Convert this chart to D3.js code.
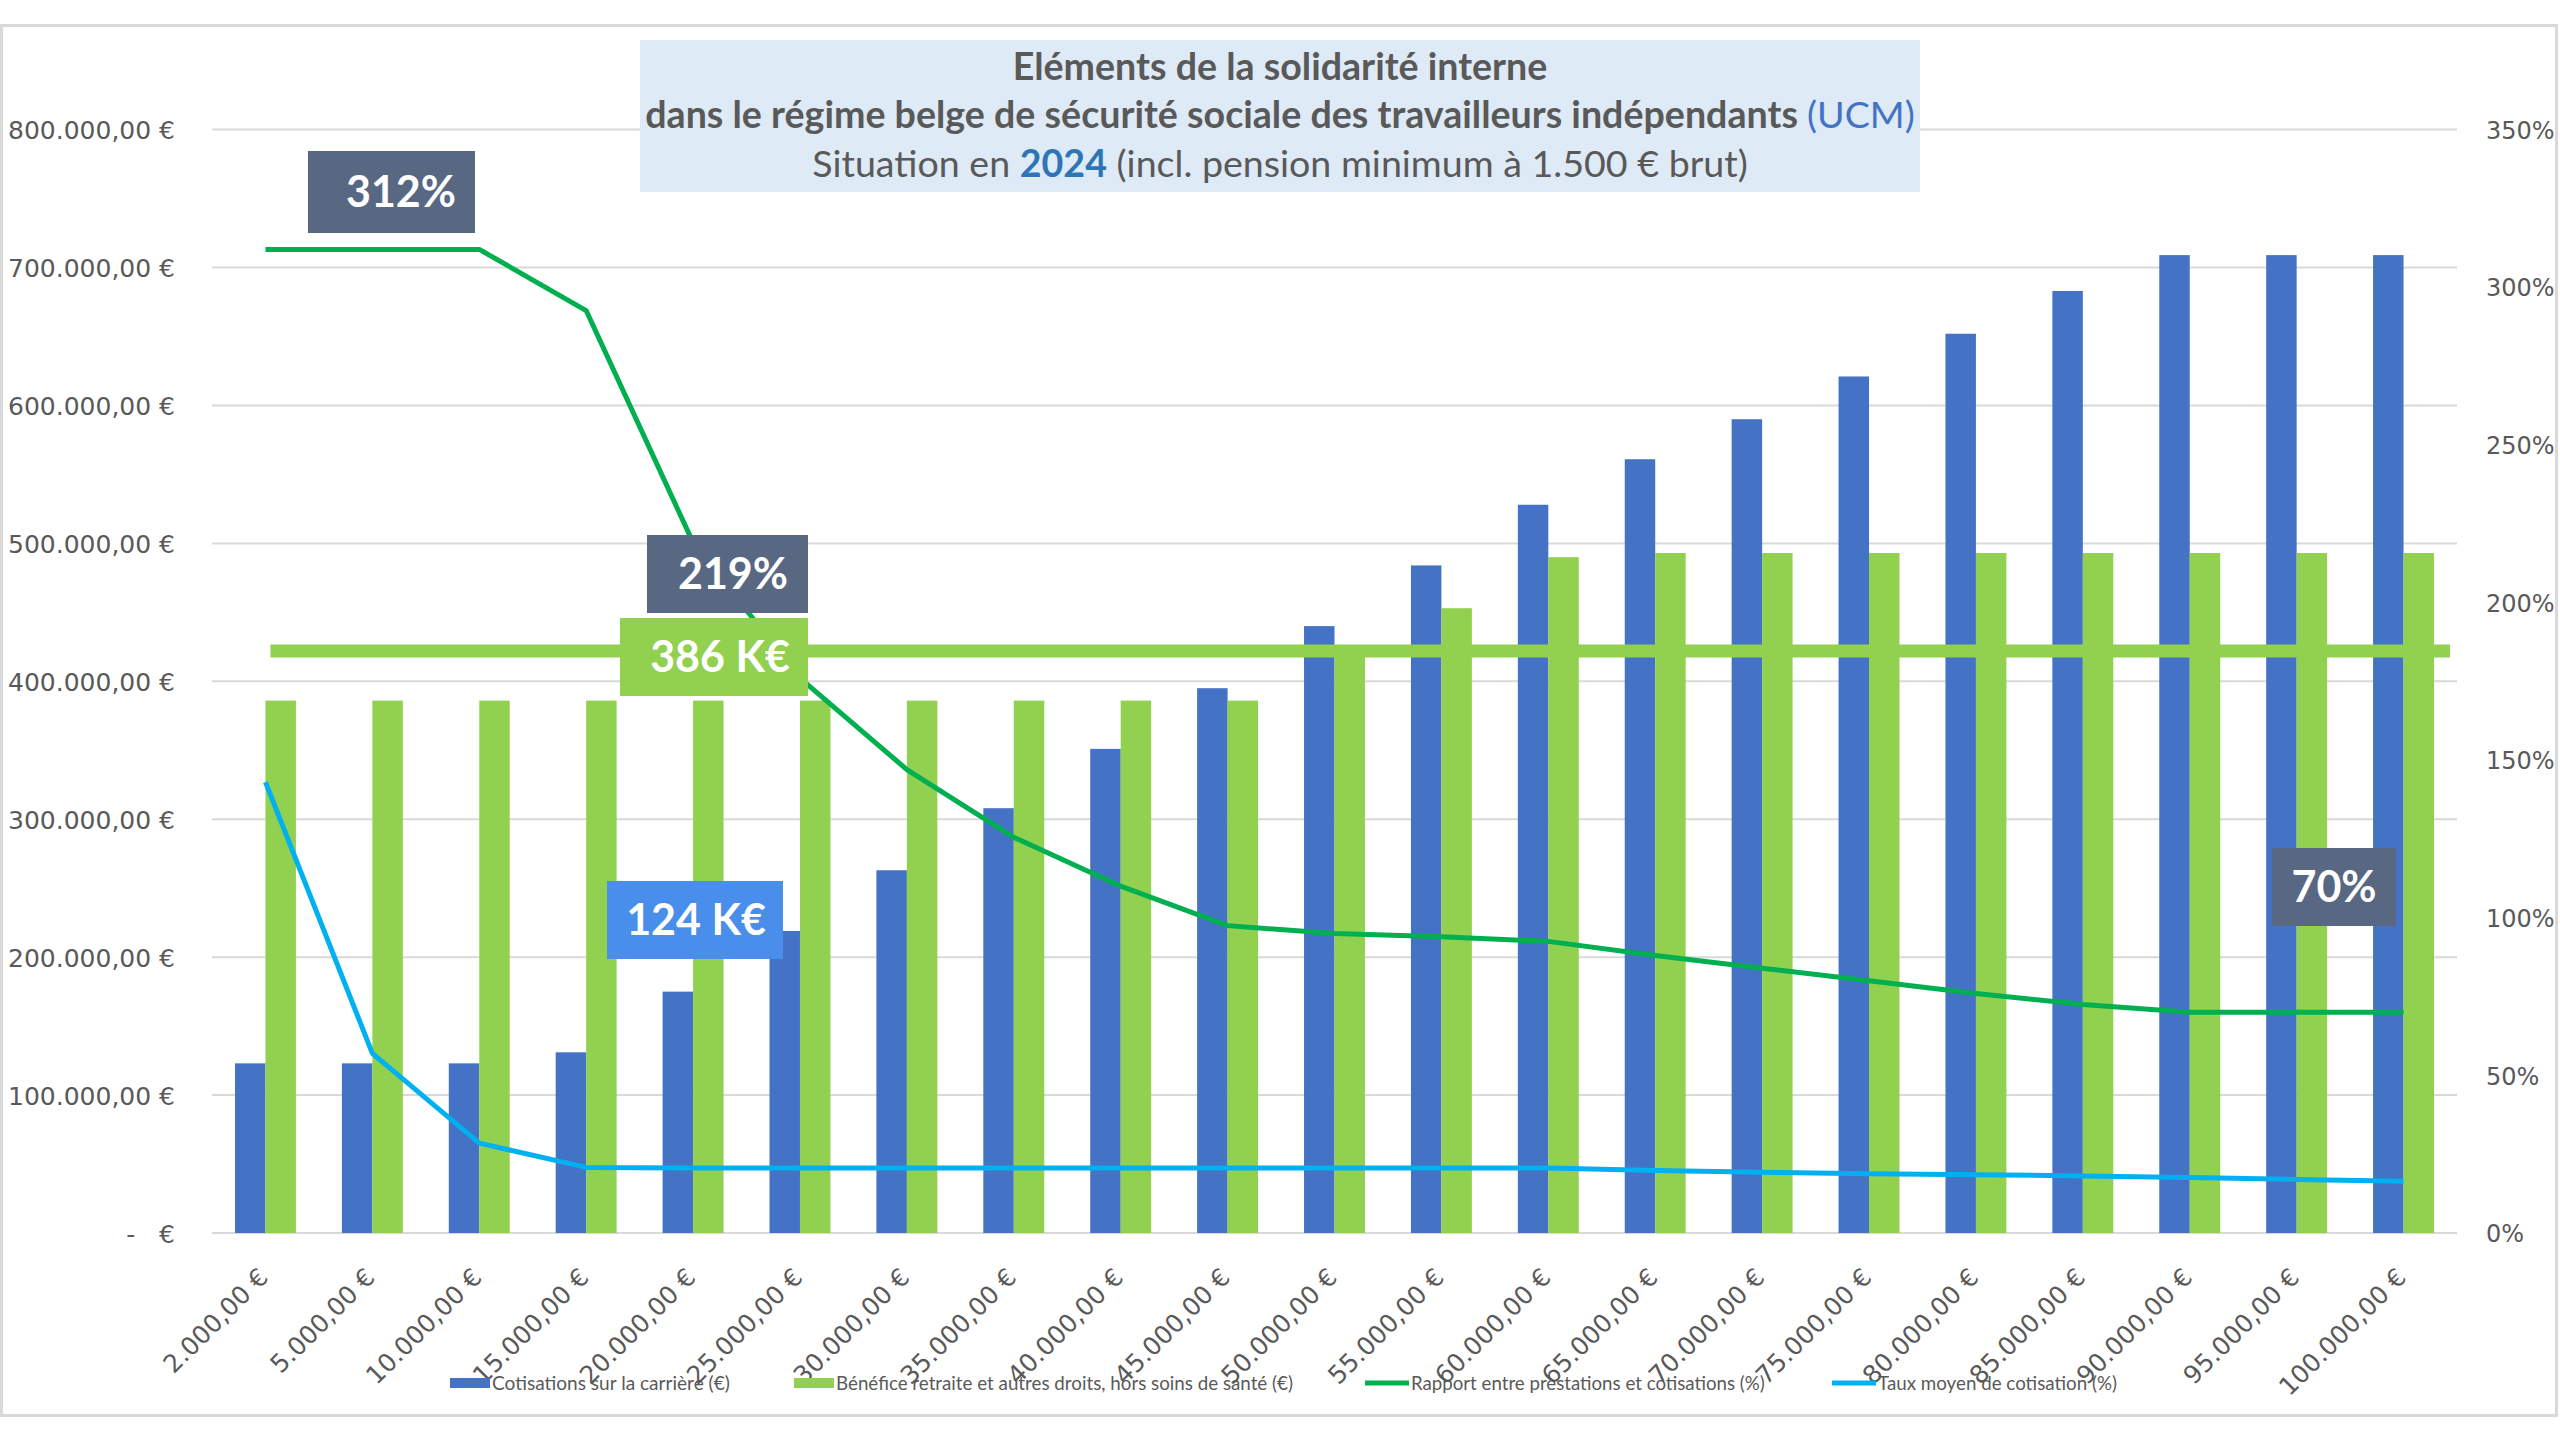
<!DOCTYPE html>
<html><head><meta charset="utf-8">
<script src="https://cdn.jsdelivr.net/npm/d3@7"></script>
<style>
html,body{margin:0;padding:0;background:#fff;}
svg{display:block;}
</style></head>
<body>
<svg id="chart" width="2560" height="1440"></svg>
<script>
// ---------- DATA ----------
const categories = [2000,5000,10000,15000,20000,25000,30000,35000,40000,45000,50000,55000,60000,65000,70000,75000,80000,85000,90000,95000,100000];
const categoryLabels = ["2.000,00 €","5.000,00 €","10.000,00 €","15.000,00 €","20.000,00 €","25.000,00 €","30.000,00 €","35.000,00 €","40.000,00 €","45.000,00 €","50.000,00 €","55.000,00 €","60.000,00 €","65.000,00 €","70.000,00 €","75.000,00 €","80.000,00 €","85.000,00 €","90.000,00 €","95.000,00 €","100.000,00 €"];
const cotisations = [123000,123000,123000,131000,175000,219000,263000,308000,351000,395000,440000,484000,528000,561000,590000,621000,652000,683000,709000,709000,709000];
const benefice = [386000,386000,386000,386000,386000,386000,386000,386000,386000,386000,420000,453000,490000,493000,493000,493000,493000,493000,493000,493000,493000];
const rapport = [312,312,312,292.6,219,176,147,125.5,110,97.5,95,94,92.5,88,84,80,76,72.5,70,70,70];
const tauxMoyen = [143,57,28.5,20.8,20.6,20.6,20.6,20.6,20.6,20.6,20.6,20.6,20.6,19.8,19.3,18.8,18.5,18.1,17.6,17.0,16.4];
const leftTicks = [0,100000,200000,300000,400000,500000,600000,700000,800000];
const leftTickLabels = ["-\u00a0\u00a0\u00a0€","100.000,00 €","200.000,00 €","300.000,00 €","400.000,00 €","500.000,00 €","600.000,00 €","700.000,00 €","800.000,00 €"];
const rightTicks = [0,50,100,150,200,250,300,350];
const rightTickLabels = ["0%","50%","100%","150%","200%","250%","300%","350%"];
const seriesNames = ["Cotisations sur la carrière (€)","Bénéfice retraite et autres droits, hors soins de santé (€)","Rapport entre prestations et cotisations (%)","Taux moyen de cotisation (%)"];
const refLineValue = 422000;
const annotations = [
  {text:"312%", kind:"dark"},
  {text:"219%", kind:"dark"},
  {text:"386 K€", kind:"green"},
  {text:"124 K€", kind:"blue"},
  {text:"70%", kind:"dark"}
];

// ---------- LAYOUT ----------
const svg = d3.select("#chart");
const W = 2560, H = 1440;
const plot = {left:212, right:2457, top:129.6, bottom:1233};
const colBlue = "#4472C4", colGreen = "#92D050", colLineGreen = "#00B050", colLineBlue = "#00B0F0";
const textGrey = "#595959";

svg.append("rect").attr("x",0).attr("y",0).attr("width",W).attr("height",H).attr("fill","#fff");
svg.append("rect").attr("x",1.5).attr("y",25.5).attr("width",2555).attr("height",1390)
  .attr("fill","#fff").attr("stroke","#d9d9d9").attr("stroke-width",3);

const x = d3.scaleBand().domain(categories).range([plot.left, plot.right]).paddingInner(0.43).paddingOuter(0.215);
const x1 = d3.scaleBand().domain([0,1]).range([0, x.bandwidth()]);
const y = d3.scaleLinear().domain([0,800000]).range([plot.bottom, plot.top]);
const y2 = d3.scaleLinear().domain([0,350]).range([plot.bottom, plot.top]);

// gridlines
svg.append("g").selectAll("line").data(leftTicks).join("line")
  .attr("x1",plot.left).attr("x2",plot.right)
  .attr("y1",d=>y(d)).attr("y2",d=>y(d))
  .attr("stroke","#d9d9d9").attr("stroke-width",2);

// left axis
const yAxis = d3.axisLeft(y).tickValues(leftTicks).tickSize(0).tickFormat((d,i)=>leftTickLabels[i]);
const gy = svg.append("g").attr("transform",`translate(175,0)`).call(yAxis);
gy.select(".domain").remove();
gy.selectAll("text").attr("font-family","DejaVu Sans").attr("font-size",25).attr("fill",textGrey).attr("x",0).attr("dy","0.36em");

// right axis
const yAxis2 = d3.axisRight(y2).tickValues(rightTicks).tickSize(0).tickFormat((d,i)=>rightTickLabels[i]);
const gy2 = svg.append("g").attr("transform",`translate(2486,0)`).call(yAxis2);
gy2.select(".domain").remove();
gy2.selectAll("text").attr("font-family","DejaVu Sans").attr("font-size",24).attr("fill",textGrey).attr("x",0).attr("dy","0.36em");

// x axis labels
const xAxis = d3.axisBottom(x).tickSize(0).tickFormat((d,i)=>categoryLabels[i]);
const gx = svg.append("g").attr("transform",`translate(0,${plot.bottom})`).call(xAxis);
gx.select(".domain").remove();
gx.selectAll("text").attr("font-family","DejaVu Sans").attr("font-size",25).attr("fill",textGrey)
  .attr("text-anchor","end").attr("y",0).attr("dy",0)
  .attr("transform","translate(4,46) rotate(-45)");

// bars
const gBars = svg.append("g");
gBars.selectAll(".b1").data(categories).join("rect").attr("class","b1")
  .attr("x",d=>x(d)+x1(0)).attr("width",x1.bandwidth())
  .attr("y",(d,i)=>y(cotisations[i])).attr("height",(d,i)=>y(0)-y(cotisations[i]))
  .attr("fill",colBlue);
gBars.selectAll(".b2").data(categories).join("rect").attr("class","b2")
  .attr("x",d=>x(d)+x1(1)).attr("width",x1.bandwidth())
  .attr("y",(d,i)=>y(benefice[i])).attr("height",(d,i)=>y(0)-y(benefice[i]))
  .attr("fill",colGreen);

// reference horizontal line
svg.append("line").attr("x1",x(categories[0])+x.bandwidth()/2+5).attr("x2",x(categories[categories.length-1])+x.bandwidth()+16)
  .attr("y1",y(refLineValue)).attr("y2",y(refLineValue))
  .attr("stroke",colGreen).attr("stroke-width",13);

// lines
const cx = d=>x(d)+x.bandwidth()/2;
const line = d3.line().x(d=>cx(d[0])).y(d=>y2(d[1]));
svg.append("path").datum(categories.map((c,i)=>[c,rapport[i]])).attr("d",line)
  .attr("fill","none").attr("stroke",colLineGreen).attr("stroke-width",5).attr("stroke-linejoin","round");
svg.append("path").datum(categories.map((c,i)=>[c,tauxMoyen[i]])).attr("d",line)
  .attr("fill","none").attr("stroke",colLineBlue).attr("stroke-width",5).attr("stroke-linejoin","round");

// annotation boxes
const boxFill = {dark:"#586882", green:colGreen, blue:"#4A8EEC"};
const boxPos = [
  {x:308, y:151, w:167, h:82, tx:401},
  {x:647, y:535, w:161, h:78, tx:733},
  {x:620, y:618, w:188, h:78, tx:720},
  {x:607, y:881, w:176, h:78, tx:696},
  {x:2272, y:848, w:124, h:78, tx:2334}
];
annotations.forEach((a,i)=>{
  const p = boxPos[i];
  svg.append("rect").attr("x",p.x).attr("y",p.y).attr("width",p.w).attr("height",p.h).attr("fill",boxFill[a.kind]);
  svg.append("text").attr("x",p.tx).attr("y",p.y+p.h/2).attr("dy","0.36em").attr("text-anchor","middle")
    .attr("font-family","Lato").attr("font-weight","bold").attr("font-size",43).attr("fill","#fff").text(a.text);
});

// title box
svg.append("rect").attr("x",640).attr("y",40).attr("width",1280).attr("height",152).attr("fill","#DEEAF6");
const tcx = 1280;
const t1 = svg.append("text").attr("x",tcx).attr("y",80).attr("text-anchor","middle").attr("font-family","Lato").attr("font-weight","bold").attr("font-size",34).attr("fill",textGrey).text("Eléments de la solidarité interne");
const t2 = svg.append("text").attr("x",tcx).attr("y",128).attr("text-anchor","middle").attr("font-family","Lato").attr("font-weight","bold").attr("font-size",34).attr("fill",textGrey);
t2.append("tspan").text("dans le régime belge de sécurité sociale des travailleurs indépendants ");
t2.append("tspan").attr("fill","#4472C4").attr("font-weight","normal").text("(UCM)");
const t3 = svg.append("text").attr("x",tcx).attr("y",177).attr("text-anchor","middle").attr("font-family","Lato").attr("font-size",34).attr("fill",textGrey);
t3.append("tspan").text("Situation en ");
t3.append("tspan").attr("fill","#2E75B6").attr("font-weight","bold").text("2024");
t3.append("tspan").text(" (incl. pension minimum à 1.500 € brut)");
// fit title size to target width of line 2
const w2 = t2.node().getComputedTextLength();
const fs = 34*1270/w2;
[t1,t2,t3].forEach(t=>t.attr("font-size",fs));

// legend
const legendY = 1383;
const legendItems = [
  {x:450, type:"rect", color:colBlue, tw:238},
  {x:794, type:"rect", color:colGreen, tw:457},
  {x:1365, type:"line", color:colLineGreen, tw:354},
  {x:1832, type:"line", color:colLineBlue, tw:239}
];
const lg = svg.append("g");
let legendFs = 18;
legendItems.forEach((it,i)=>{
  if(it.type==="rect"){
    lg.append("rect").attr("x",it.x).attr("y",legendY-5).attr("width",40).attr("height",10).attr("fill",it.color);
  } else {
    lg.append("line").attr("x1",it.x).attr("x2",it.x+44).attr("y1",legendY).attr("y2",legendY).attr("stroke",it.color).attr("stroke-width",5);
  }
  const t = lg.append("text").attr("class","lt").attr("x",it.x+(it.type==="rect"?42:46)).attr("y",legendY).attr("dy","0.35em")
    .attr("font-family","Liberation Sans Narrow, Lato").attr("font-size",legendFs).attr("fill",textGrey).text(seriesNames[i]);
  const w = t.node().getComputedTextLength();
  t.attr("font-size", legendFs*it.tw/w);
});
</script>
</body></html>
